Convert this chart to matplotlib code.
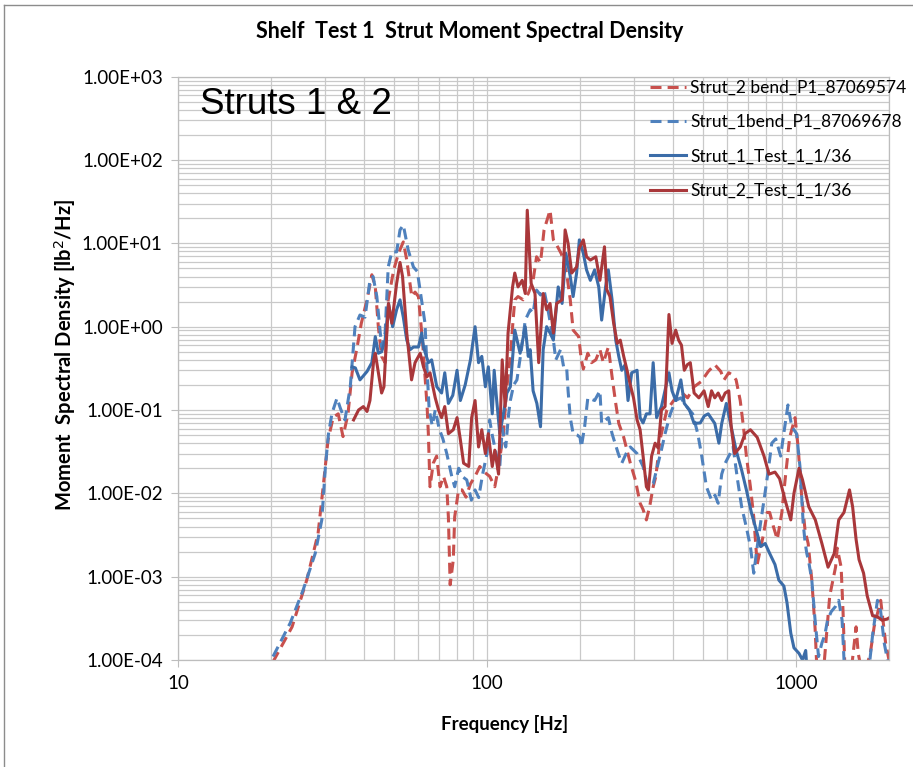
import matplotlib
matplotlib.use("Agg")
import matplotlib.pyplot as plt
from matplotlib.lines import Line2D
from matplotlib.ticker import FuncFormatter, FixedLocator, NullFormatter, LogLocator

plt.rcParams['font.family'] = ['Lato', 'DejaVu Sans']

# Strut_2 bend_P1_87069574 (dashed red)
s2_bend_f = [20.3, 23.4, 26.1, 28.4, 29.5, 30.6, 31.8, 33.0, 34.2, 35.5, 36.6, 38.0, 39.2, 40.9, 42.4,
             43.5, 44.5, 45.6, 46.8, 47.9, 49.9, 51.7, 53.6, 55.0, 57.1, 58.5, 60.0, 62.0, 63.0, 64.0,
             64.6, 65.4, 67.0, 68.7, 70.5, 72.3, 74.1, 75.0, 76.0, 77.8, 78.6, 80.9, 83.0, 85.5, 88.4,
             91.5, 94.8, 98, 102, 106, 109, 113, 116, 119, 121, 123, 126, 131, 136, 141, 144.7, 149,
             153, 160, 164, 168, 174, 181, 186, 190, 198, 202, 205, 212, 218, 225, 232, 238, 247, 254,
             261, 267, 277, 291, 302, 313, 320, 328, 336, 345, 352, 363, 382, 402, 428, 446, 468, 494,
             520, 546, 571, 585, 606, 626, 640, 660, 676, 691, 712, 730, 749, 768, 786, 807, 822, 845,
             870, 900, 922, 954, 993, 1016, 1043, 1070, 1095, 1125, 1153, 1170, 1230, 1286, 1343,
             1360, 1400, 1420, 1440, 1500, 1565, 1590, 1650, 1740, 1790, 1880, 1950, 2000]
s2_bend_psd = [0.95e-4, 2.5e-4, 9.1e-4, 0.0033, 0.012, 0.044, 0.082, 0.09, 0.048, 0.09, 0.28, 0.57,
               1.1, 2.1, 4.2, 3.0, 1.0, 0.44, 0.37, 2.1, 4.8, 7.6, 10.4, 6.3, 2.3, 2.6, 2.3, 0.6, 0.25,
               0.11, 0.052, 0.012, 0.023, 0.028, 0.012, 0.016, 0.012, 0.0052, 0.0008, 0.0016, 0.0052,
               0.011, 0.011, 0.009, 0.013, 0.016, 0.021, 0.018, 0.016, 0.012, 0.021, 0.052, 0.19, 0.44,
               1.0, 2.1, 2.3, 2.1, 2.5, 3.6, 6.9, 5.9, 14.5, 25, 11, 9.6, 7.5, 4.4, 2.1, 0.91, 0.76,
               0.4, 0.31, 0.48, 0.37, 0.4, 0.53, 0.37, 0.57, 0.25, 0.12, 0.069, 0.047, 0.023, 0.0145,
               0.0076, 0.0064, 0.0048, 0.0069, 0.012, 0.016, 0.044, 0.1, 0.13, 0.16, 0.14, 0.19, 0.22,
               0.29, 0.35, 0.29, 0.23, 0.28, 0.26, 0.23, 0.13, 0.063, 0.028, 0.012, 0.0052, 0.0014,
               0.0022, 0.0033, 0.0059, 0.0059, 0.004, 0.0028, 0.0059, 0.0145, 0.047, 0.081, 0.036,
               0.0093, 0.0036, 0.0025, 0.00091, 2.4e-4, 7e-5, 8e-5, 5.9e-4, 0.0013, 0.0022, 0.0013,
               3.8e-4, 8e-5, 6e-5, 2.5e-4, 1.2e-4, 6e-5, 1.2e-4, 2.5e-4, 5.2e-4, 1.6e-4, 1.0e-4]

# Strut_1bend_P1_87069678 (dashed blue)
s1_bend_f = [20.3, 23.1, 25.4, 27.8, 29.2, 30.0, 30.7, 31.5, 32.7, 33.5, 34.7, 36.1, 37.4, 38.8, 40.3,
             41.8, 42.8, 44.0, 45.6, 46.8, 47.9, 49.2, 51.0, 52.3, 53.6, 55.6, 57.8, 59.5, 61.5, 63.0,
             64.0, 65.0, 66.5, 68.0, 70.0, 72.0, 74.1, 76.9, 78.6, 81.0, 83.0, 86.0, 89.0, 91.5, 94.0,
             96.8, 100.0, 102, 104, 107, 110, 112, 115, 117.5, 119, 122, 125, 129.6, 133, 138, 141,
             144.7, 149, 153, 158, 164, 167, 173, 177, 181, 183, 186, 190, 196, 200, 202, 207, 212,
             223, 232, 235, 247, 254, 266, 273, 282, 291, 306, 320, 332, 345, 358, 368, 377, 392, 408,
             424, 446, 463, 481, 494, 513, 533, 547, 560, 575, 590, 612, 626, 647, 667, 690, 712, 730,
             748, 768, 788, 810, 835, 860, 892, 913, 942, 969, 1005, 1030, 1055, 1070, 1084, 1100,
             1125, 1153, 1183, 1213, 1240, 1265, 1300, 1343, 1375, 1410, 1440, 1550, 1700, 1770, 1835,
             1880, 1930, 2000]
s1_bend_psd = [1.1e-4, 2.8e-4, 6.9e-4, 1.9e-3, 4.8e-3, 0.021, 0.052, 0.091, 0.139, 0.106, 0.076, 0.19,
               1.0, 1.38, 1.3, 3.6, 4.0, 2.3, 0.57, 0.84, 5.2, 7.9, 7.9, 14.5, 16.6, 8.3, 5.2, 4.6, 2.0,
               1.1, 0.3, 0.1, 0.065, 0.1, 0.06, 0.045, 0.03, 0.016, 0.012, 0.02, 0.016, 0.0145, 0.0083,
               0.011, 0.0089, 0.017, 0.03, 0.076, 0.05, 0.03, 0.021, 0.06, 0.036, 0.09, 0.13, 0.2, 0.23,
               0.57, 1.2, 1.6, 1.45, 2.75, 2.4, 2.75, 1.5, 0.69, 0.4, 0.53, 0.33, 0.33, 0.17, 0.081,
               0.052, 0.05, 0.047, 0.036, 0.063, 0.14, 0.13, 0.17, 0.069, 0.081, 0.052, 0.030, 0.023,
               0.03, 0.036, 0.030, 0.021, 0.012, 0.013, 0.023, 0.035, 0.052, 0.09, 0.13, 0.14, 0.106,
               0.09, 0.052, 0.030, 0.012, 0.0083, 0.0095, 0.0076, 0.017, 0.023, 0.030, 0.036, 0.0145,
               0.0069, 0.004, 0.0023, 0.0011, 0.0022, 0.0044, 0.0083, 0.017, 0.04, 0.045, 0.028, 0.052,
               0.115, 0.063, 0.052, 0.021, 0.0044, 0.0026, 0.0019, 0.0015, 0.00091, 0.0003, 1.1e-4,
               1.6e-4, 2e-4, 3e-4, 3.8e-4, 4.4e-4, 5.2e-4, 3e-4, 6e-5, 4e-5, 5e-5, 2e-4, 5.2e-4,
               3.8e-4, 1.6e-4, 8e-5]

# Strut_1_Test_1_1/36 (solid blue)
s1_test_f = [36.6, 37.5, 38.8, 40.9, 42.4, 43.5, 44.5, 45.6, 46.8, 48.0, 49.5, 51.0, 52.3, 53.6, 55.0,
             56.4, 57.8, 60.0, 61.5, 62.3, 64.6, 66.2, 68.8, 71.3, 73.0, 75.0, 77.5, 80.0, 82.0, 85.0,
             88.4, 91.5, 93.9, 96.2, 98.8, 101, 104, 105.5, 107.5, 110, 113, 116, 119, 123, 128, 133,
             136, 138, 141, 145, 149, 152, 156, 160, 164, 170, 175, 180, 186, 190, 195, 199, 205, 210,
             216, 223, 230, 235, 242, 247, 254, 261, 267, 273, 280, 286, 294, 306, 313, 320, 328, 337,
             345, 354, 367, 388, 397, 408, 424, 435, 452, 468, 490, 505, 520, 546, 563, 575, 595, 617,
             640, 667, 691, 717, 749, 768, 795, 822, 855, 880, 914, 935, 962, 985, 1023, 1050, 1075,
             1090, 1120]
s1_test_psd = [0.33, 0.32, 0.23, 0.29, 0.37, 0.76, 0.48, 0.5, 0.69, 1.9, 1.0, 1.6, 2.1, 1.3, 0.69,
               0.53, 0.57, 0.57, 0.84, 0.57, 0.37, 0.4, 0.19, 0.16, 0.28, 0.12, 0.15, 0.3, 0.13, 0.2,
               0.4, 1.0, 0.37, 0.44, 0.19, 0.33, 0.09, 0.3, 0.13, 0.052, 0.09, 0.16, 0.19, 0.91, 0.48,
               1.0, 0.44, 0.53, 0.17, 0.12, 0.063, 0.53, 1.0, 0.84, 0.69, 3.0, 1.9, 7.6, 4.0, 2.3, 4.4,
               11, 7.6, 4.8, 3.6, 4.8, 3.0, 1.2, 3.0, 4.8, 2.1, 0.69, 0.44, 0.3, 0.35, 0.13, 0.28, 0.3,
               0.081, 0.07, 0.09, 0.09, 0.37, 0.081, 0.11, 0.28, 0.17, 0.13, 0.23, 0.12, 0.1, 0.069,
               0.07, 0.085, 0.09, 0.069, 0.04, 0.069, 0.12, 0.063, 0.033, 0.019, 0.011, 0.0059, 0.0033,
               0.0023, 0.0025, 0.0019, 0.0014, 0.00091, 0.00077, 0.00049, 0.00021, 0.00014, 0.00012,
               1.0e-4, 1.3e-4, 6e-5, 4e-5]

# Strut_2_Test_1_1/36 (solid red)
s2_test_f = [37.0, 38.4, 39.8, 40.9, 41.8, 43.0, 43.5, 44.5, 45.6, 46.4, 47.4, 48.0, 49.2, 51.0, 52.3,
             53.3, 55.0, 57.0, 58.5, 60.0, 60.8, 62.3, 63.9, 65.4, 68.0, 69.7, 71.3, 73.0, 75.0, 77.8,
             80.0, 82.0, 84.0, 87.3, 89.2, 91.5, 93.9, 96.2, 98.8, 101, 104, 106, 109, 112, 114.5, 117,
             121, 123, 126, 130, 133, 135, 138, 139, 143, 147, 152, 156, 160, 164, 168, 175, 179, 183,
             188, 195, 199, 205, 210, 216, 225, 232, 240, 244, 250, 257, 264, 270, 277, 284, 291, 298,
             306, 313, 320, 328, 333, 341, 350, 358, 367, 377, 388, 397, 408, 417, 426, 435, 445, 455,
             468, 485, 504, 520, 533, 546, 560, 575, 590, 606, 617, 633, 660, 684, 712, 749, 788, 818,
             855, 885, 922, 962, 985, 1023, 1050, 1100, 1155, 1213, 1270, 1330, 1375, 1430, 1490,
             1525, 1565, 1600, 1655, 1700, 1770, 1835, 1900, 1970, 2000]
s2_test_psd = [0.076, 0.1, 0.11, 0.096, 0.13, 0.4, 0.48, 0.28, 0.16, 0.19, 0.84, 1.9, 1.1, 3.3, 5.9,
               4.0, 0.84, 0.23, 0.37, 0.44, 0.48, 0.33, 0.25, 0.28, 0.14, 0.1, 0.081, 0.11, 0.052,
               0.058, 0.081, 0.044, 0.023, 0.021, 0.081, 0.13, 0.036, 0.058, 0.03, 0.052, 0.021, 0.033,
               0.017, 0.4, 0.11, 0.84, 3.0, 4.4, 3.0, 3.6, 2.5, 25, 5.2, 3.3, 2.5, 0.37, 2.5, 1.6, 1.9,
               0.84, 1.9, 2.1, 14.5, 10, 4.4, 5.2, 8.8, 11, 6.9, 6.3, 6.9, 3.6, 9.1, 2.8, 2.3, 1.1,
               0.63, 0.69, 0.44, 0.3, 0.2, 0.14, 0.076, 0.058, 0.028, 0.012, 0.011, 0.028, 0.04, 0.035,
               0.1, 0.11, 1.4, 0.63, 0.91, 0.69, 0.6, 0.3, 0.35, 0.37, 0.16, 0.14, 0.17, 0.11, 0.17,
               0.14, 0.16, 0.13, 0.16, 0.17, 0.063, 0.030, 0.036, 0.052, 0.058, 0.047, 0.028, 0.017,
               0.018, 0.015, 0.0083, 0.0048, 0.01, 0.020, 0.0145, 0.0069, 0.0048, 0.0025, 0.0013,
               0.0019, 0.0048, 0.0059, 0.011, 0.0069, 0.0028, 0.0016, 0.0011, 5.9e-4, 3.4e-4, 3.3e-4,
               3.0e-4, 3.1e-4, 3.2e-4]

red_dash = '#C8504D'
blue_dash = '#4F81BD'
blue_solid = '#3B6CA8'
red_solid = '#A9373A'
grid_col = '#C9C9C9'

fig = plt.figure(figsize=(9.13, 7.67), dpi=100)
ax = fig.add_axes([178 / 913, 1 - 660 / 767, (889 - 178) / 913, (660 - 76.7) / 767])

lw = 2.2
dash = (3.6, 2.0)
ax.plot(s2_bend_f, s2_bend_psd, color=red_dash, lw=lw, dashes=dash, label='Strut_2 bend_P1_87069574')
ax.plot(s1_bend_f, s1_bend_psd, color=blue_dash, lw=lw, dashes=dash, label='Strut_1bend_P1_87069678')
ax.plot(s1_test_f, s1_test_psd, color=blue_solid, lw=lw, label='Strut_1_Test_1_1/36')
ax.plot(s2_test_f, s2_test_psd, color=red_solid, lw=lw, label='Strut_2_Test_1_1/36')

ax.set_xscale('log')
ax.set_yscale('log')
ax.set_xlim(10, 2000)
ax.set_ylim(1e-4, 1e3)

ax.xaxis.set_major_locator(FixedLocator([10, 100, 1000]))
ax.xaxis.set_major_formatter(FuncFormatter(lambda v, p: f'{v:.0f}'))
ax.xaxis.set_minor_locator(LogLocator(base=10, subs=range(2, 10), numticks=20))
ax.xaxis.set_minor_formatter(NullFormatter())
ax.yaxis.set_major_locator(LogLocator(base=10, numticks=12))
ax.yaxis.set_major_formatter(FuncFormatter(lambda v, p: f'{v:.2E}'))
ax.yaxis.set_minor_locator(LogLocator(base=10, subs=range(2, 10), numticks=20))
ax.yaxis.set_minor_formatter(NullFormatter())

ax.grid(True, which='both', color=grid_col, lw=0.9)
ax.set_axisbelow(True)
for s in ax.spines.values():
    s.set_color('#BDBDBD')
    s.set_linewidth(0.9)
ax.tick_params(which='major', length=5, color='#BDBDBD', labelsize=13.5, pad=6)
ax.tick_params(which='minor', length=0)

fig.text(505 / 913, 1 - 724 / 767, 'Frequency [Hz]', ha='center', va='center',
         fontsize=13.5, fontweight='bold')
fig.text(65 / 913, 1 - 355 / 767, 'Moment  Spectral Density [lb$^2$/Hz]', ha='center', va='center',
         rotation=90, fontsize=14.5, fontweight='bold')
fig.text(470 / 913, 1 - 32 / 767, 'Shelf  Test 1  Strut Moment Spectral Density',
         ha='center', va='center', fontsize=15.5, fontweight='bold')
fig.text(200 / 913, 1 - 105 / 767, 'Struts 1 & 2', fontsize=26.5, family='Liberation Sans',
         va='center', ha='left')

ax.legend(loc='upper left', bbox_to_anchor=(650 / 913, 1 - 80 / 767), bbox_transform=fig.transFigure,
          frameon=False, fontsize=12.5, handlelength=2.1, handletextpad=0.2, labelspacing=1.05,
          borderpad=0, borderaxespad=0)

# thin chart frame along the top and left edge
fig.add_artist(Line2D([4 / 913, 1], [1 - 5 / 767, 1 - 5 / 767], color='#8C8C8C', lw=1))
fig.add_artist(Line2D([4 / 913, 4 / 913], [0, 1 - 5 / 767], color='#8C8C8C', lw=1))

fig.savefig('out.png', dpi=100)
